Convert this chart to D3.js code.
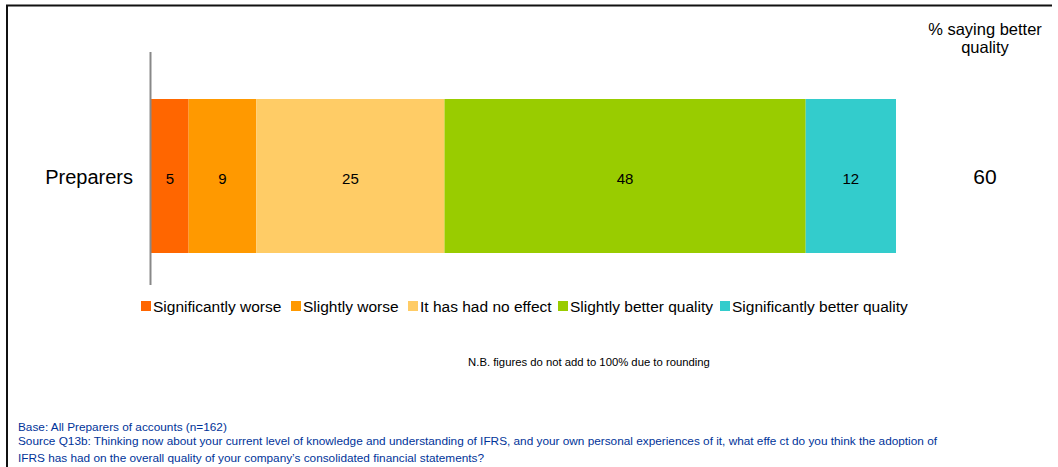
<!DOCTYPE html>
<html><head><meta charset="utf-8">
<script src="https://cdn.jsdelivr.net/npm/d3@7"></script>
<style>body{margin:0;background:#fff}svg{display:block;font-family:"Liberation Sans",Arial,sans-serif}</style>
</head><body><svg id="c" width="1058" height="467"></svg>
<script>
const categories = ["Preparers"];
const seriesNames = ["Significantly worse","Slightly worse","It has had no effect","Slightly better quality","Significantly better quality"];
const seriesValues = [5, 9, 25, 48, 12];
const seriesColors = ["#FF6600","#FF9900","#FFCC66","#99CC00","#33CCCC"];
const betterQuality = [60];
const footnotes = ["Base: All Preparers of accounts (n=162)",
 "Source Q13b: Thinking now about your current level of knowledge and understanding of IFRS, and your own personal experiences of it, what effe ct do you think the adoption of",
 "IFRS has had on the overall quality of your company\u2019s consolidated financial statements?"];

const svg = d3.select("#c");
// frame
svg.append("path").attr("d","M7,467 V5.5 H1052").attr("fill","none").attr("stroke","#111").attr("stroke-width",2);

const total = d3.sum(seriesValues);
const x = d3.scaleLinear().domain([0,total]).range([151,896]);
const barY = d3.scaleBand().domain(categories).range([99,253]);
const cy = barY(categories[0])+barY.bandwidth()/2;

const stack = [];
let acc = 0;
seriesValues.forEach((v,i)=>{stack.push({v,i,x0:acc,x1:acc+v}); acc+=v;});

const g = svg.append("g");
g.selectAll("rect.bar").data(stack).join("rect")
 .attr("x",d=>x(d.x0)).attr("width",d=>x(d.x1)-x(d.x0))
 .attr("y",barY(categories[0])).attr("height",barY.bandwidth())
 .attr("fill",d=>seriesColors[d.i]);
g.selectAll("text.val").data(stack).join("text")
 .attr("x",d=>(x(d.x0)+x(d.x1))/2).attr("y",cy+8)
 .attr("text-anchor","middle").attr("font-size",15).attr("fill","#000").text(d=>d.v);

// axis line
svg.append("line").attr("x1",150.5).attr("x2",150.5).attr("y1",52).attr("y2",285).attr("stroke","#888").attr("stroke-width",2);
// category label
svg.append("text").attr("x",133).attr("y",cy+8).attr("text-anchor","end").attr("font-size",20).text(categories[0]);

// header and value
svg.append("text").attr("x",985).attr("y",35).attr("text-anchor","middle").attr("font-size",16.5).text("% saying better");
svg.append("text").attr("x",985).attr("y",53).attr("text-anchor","middle").attr("font-size",16.5).text("quality");
svg.append("text").attr("x",985).attr("y",cy+8).attr("text-anchor","middle").attr("font-size",21).text(betterQuality[0]);

// legend
const legX = [141, 291, 408, 558, 720];
const lg = svg.append("g");
seriesNames.forEach((n,i)=>{
  lg.append("rect").attr("x",legX[i]).attr("y",301).attr("width",10).attr("height",10).attr("fill",seriesColors[i]);
  lg.append("text").attr("x",legX[i]+12).attr("y",312).attr("font-size",15.5).text(n);
});

svg.append("text").attr("x",589).attr("y",366).attr("text-anchor","middle").attr("font-size",11.3).text("N.B. figures do not add to 100% due to rounding");

const fy = [431, 445, 462];
footnotes.forEach((t,i)=>{
  svg.append("text").attr("x",18).attr("y",fy[i]).attr("font-size",11.8).attr("fill","#003399").text(t);
});
</script></body></html>
